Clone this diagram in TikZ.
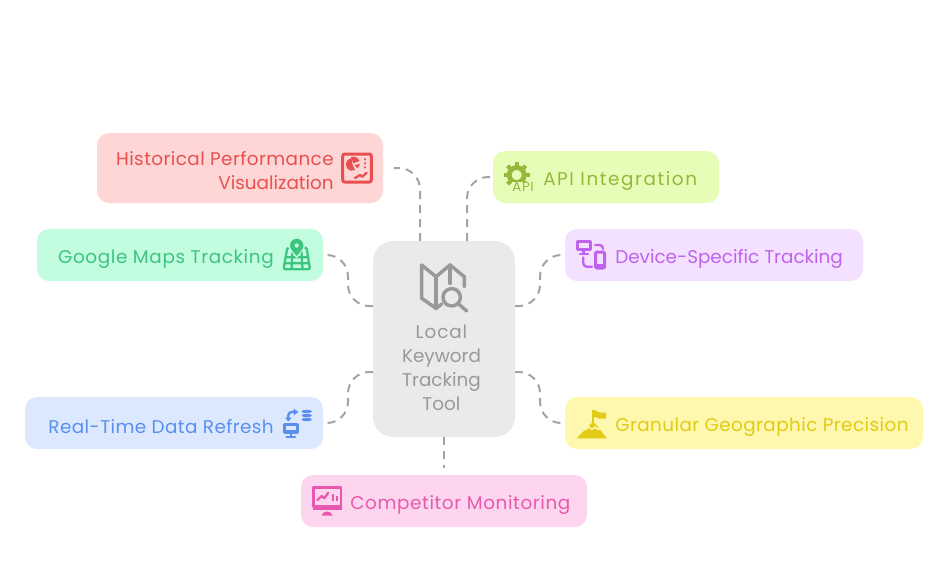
\documentclass[tikz,border=0pt]{standalone}
\usepackage{fontspec}
\setmainfont{Poppins}
\definecolor{histbg}{HTML}{FFD6D6}
\definecolor{histink}{HTML}{E85050}
\definecolor{apibg}{HTML}{E6FDB8}
\definecolor{apiink}{HTML}{94B93A}
\definecolor{mapsbg}{HTML}{C3FDE0}
\definecolor{mapsink}{HTML}{3CC57F}
\definecolor{devbg}{HTML}{F4E0FF}
\definecolor{devink}{HTML}{BF63EC}
\definecolor{realbg}{HTML}{DBE8FE}
\definecolor{realink}{HTML}{5B8FEF}
\definecolor{geobg}{HTML}{FEF7AE}
\definecolor{geoink}{HTML}{E2CB14}
\definecolor{compbg}{HTML}{FED5EE}
\definecolor{compink}{HTML}{E858AE}
\definecolor{hubbg}{HTML}{EAEAEA}
\definecolor{hubink}{HTML}{999999}
\definecolor{linkgray}{HTML}{A3A3A3}
\tikzset{
    box/.style={inner sep=0pt, rounded corners=9pt},
    caption/.style={inner sep=0pt, font=\fontsize{13.8pt}{18pt}\selectfont},
    link/.style={draw=linkgray, line width=1.5pt, dash pattern=on 6pt off 4.5pt, rounded corners=16pt},
    glyph/.style={line width=2.25pt, line cap=round, line join=round},
    thin glyph/.style={line width=1.7pt, line cap=round, line join=round}
}
\begin{document}
\begin{tikzpicture}[x=0.75pt, y=-0.75pt]
    \useasboundingbox (0,0) rectangle (948,576);

    \foreach \name/\cx/\cy/\w/\h in {hist/240/168/286/70, api/606/177/226/52, maps/180/255/286/52, dev/714/255/298/52, real/174/423/298/52, geo/744/423/358/52, comp/444/501/286/52}
    {
        \node[box, fill=\name bg, minimum width=\w*0.75pt, minimum height=\h*0.75pt] (\name) at (\cx,\cy) {};
    }
    \node[box, rounded corners=15pt, fill=hubbg, minimum width=142*0.75pt, minimum height=196*0.75pt] (hub) at (444,339) {};

    \foreach \name/\pos/\side/\track/\word in {api/543/west/8.5/API Integration, maps/274/east/3.4/Google Maps Tracking, dev/615/west/0/Device-Specific Tracking, real/274/east/2.3/Real-Time Data Refresh, geo/615/west/2.3/Granular Geographic Precision}
    {
        \node[caption, anchor=\side, text=\name ink, yshift=-3pt] (\name text) at (\pos,0 |- \name.center) {\addfontfeature{LetterSpace=\track}\word};
    }
    \node[caption, anchor=east, align=right, text=histink] (hist text) at (334,170.5) {\addfontfeature{LetterSpace=2.3}Historical Performance\\Visualization};
    \node[caption, anchor=west, text=compink] (comp text) at (350,505) {\addfontfeature{LetterSpace=3.4}Competitor Monitoring};
    \node[caption, align=center, text=hubink] (hub text) at (441.5,368) {\addfontfeature{LetterSpace=5}Local\\Keyword\\Tracking\\Tool};

    \coordinate (hist in) at (420,241);
    \coordinate (api in) at (467,241);
    \coordinate (maps in) at (373,306);
    \coordinate (dev in) at (515,306);
    \coordinate (real in) at (373,372);
    \coordinate (geo in) at (515,372);
    \draw[link, shorten >=8pt] (hist in) |- (hist.east);
    \draw[link] (api in) |- (api.west);
    \draw[link, shorten >=3pt] (maps in) -- ++(-25,0) |- (maps.east);
    \draw[link, shorten >=3pt] (dev in) -- ++(25,0) |- (dev.west);
    \draw[link, shorten >=3pt] (real in) -- ++(-25,0) |- (real.east);
    \draw[link, shorten >=3pt] (geo in) -- ++(25,0) |- (geo.west);
    \draw[link, shorten >=5pt, rounded corners=0pt] (hub.south) -- (comp.north);

    % hub icon
    \draw[hubink, glyph, line width=2.6pt] (464.3,286.7) -- (464.3,276.7) -- (450,265) -- (436,276.7) -- (421.7,265) -- (421.7,298.3) -- (436,308.3) -- (441.7,304);
    \draw[hubink, glyph, line width=2.6pt] (436,276.7) -- (436,308.3) (450,265) -- (450,283.3);
    \draw[hubink, glyph, line width=2.6pt] (451.7,297.3) circle (8.7) (458.5,304) -- (466.7,311);

    % history icon
    \draw[histink, glyph, rounded corners=1.5pt] (342.7,154) rectangle (371.3,182);
    \fill[histink] (353.3,163.3) -- (359.5,161) arc (-20:-110:6.6) -- cycle;
    \fill[histink] (352.5,164.5) -- (351.5,158) arc (-100:-250:6.6) -- (355,170) -- cycle;
    \fill[histink] (354.5,165) -- (360,164) arc (10:60:6) -- cycle;
    \foreach \dy in {159.3,163.3,167.3}
    {
        \fill[histink] (365,\dy) circle (1.2);
    }
    \draw[histink, thin glyph] (355,178) -- (360,175) -- (362.3,176.7) -- (366.7,172.7);

    % api icon
    \draw[apiink, line width=3.6pt] (516.7,175) circle (7.5);
    \foreach \a in {0,45,...,315}
    {
        \draw[apiink, line width=3pt] (516.7,175) ++(\a:9.5) -- ++(\a:3.4);
    }
    \node[inner sep=0.5pt, fill=apibg, text=apiink, font=\fontsize{10pt}{10pt}\selectfont] (api mark) at (523,187) {\addfontfeature{LetterSpace=5}API};

    % maps icon
    \draw[mapsink, thin glyph, rounded corners=1.5pt] (287.5,247) -- (283.5,269.3) -- (310,269.3) -- (306.5,247) -- cycle;
    \draw[mapsink, thin glyph] (285.5,257.3) -- (308,257.3) (284.5,263.3) -- (309,263.3) (292.5,252) -- (291.5,269) (301.5,252) -- (302.5,269);
    \fill[mapsbg] (296.7,258.5) -- (288,247) -- (288,238) -- (305,238) -- (305,247) -- cycle;
    \fill[mapsink, even odd rule] (296.7,256) .. controls (292.5,251) and (290,248.5) .. (290,245.5) arc (180:360:6.7) .. controls (303.4,248.5) and (301,251) .. (296.7,256) -- cycle (296.7,245.5) circle (2.3);

    % device icon
    \draw[devink, glyph] (577.3,241) rectangle (590,249.5);
    \draw[devink, thin glyph] (583.6,250) -- (583.6,254) (580,254.3) -- (588,254.3);
    \draw[devink, thin glyph, rounded corners=2.5pt] (583.3,257.5) -- (583.3,266.7) -- (592,266.7);
    \draw[devink, thin glyph, rounded corners=2.5pt] (595,245) -- (603,245) -- (603,249);
    \draw[devink, glyph, rounded corners=1pt] (595.5,252) rectangle (604.7,268);
    \fill[devink] (595.5,263.5) rectangle (604.7,268);

    % realtime icon
    \draw[realink, glyph] (284.5,424.5) rectangle (297,432);
    \fill[realink] (284.5,430) rectangle (297,433);
    \draw[realink, thin glyph] (290.7,433.3) -- (290.7,436.5) (286.5,436.8) -- (295,436.8);
    \draw[realink, thin glyph, rounded corners=2.5pt] (288.3,418) -- (288.3,412) -- (294,412);
    \fill[realink] (293.5,408.5) -- (298.5,412) -- (293.5,415.5) -- cycle;
    \fill[realink] (285,417.5) -- (291.6,417.5) -- (288.3,421.5) -- cycle;
    \foreach \dy in {411.5,415.5,419.5}
    {
        \fill[realink] (306.7,\dy) ellipse (5.2 and 1.7);
    }

    % geo icon
    \fill[geoink] (593.3,421.5) -- (607,438.3) -- (576.7,438.3) -- cycle;
    \draw[geobg, line width=1.1pt] (585,430) -- (589,427) -- (592,429.5) -- (595,427) -- (598,429.5) -- (601,428);
    \draw[geoink, line width=1.5pt] (593.3,410) -- (593.3,424);
    \fill[geoink] (593.3,409.5) -- (600,412.5) -- (606,412.5) -- (606,418.5) -- (599,418.5) -- (593.3,416.5) -- cycle;

    % competitor icon
    \draw[compink, thin glyph] (313.5,487.5) rectangle (341,507);
    \fill[compink] (313,505) rectangle (341.5,510);
    \draw[compink, thin glyph] (317.5,500) -- (321.7,496) -- (324.3,498.3) -- (328.3,492.7);
    \draw[compink, line width=1.6pt] (333.3,494) -- (333.3,500.7) (336.7,496) -- (336.7,500.7);
    \fill[compink] (321.5,515.5) .. controls (322,512.5) and (325,511.5) .. (327,511.5) .. controls (329,511.5) and (332,512.5) .. (332.7,515.5) -- cycle;
\end{tikzpicture}
\end{document}
